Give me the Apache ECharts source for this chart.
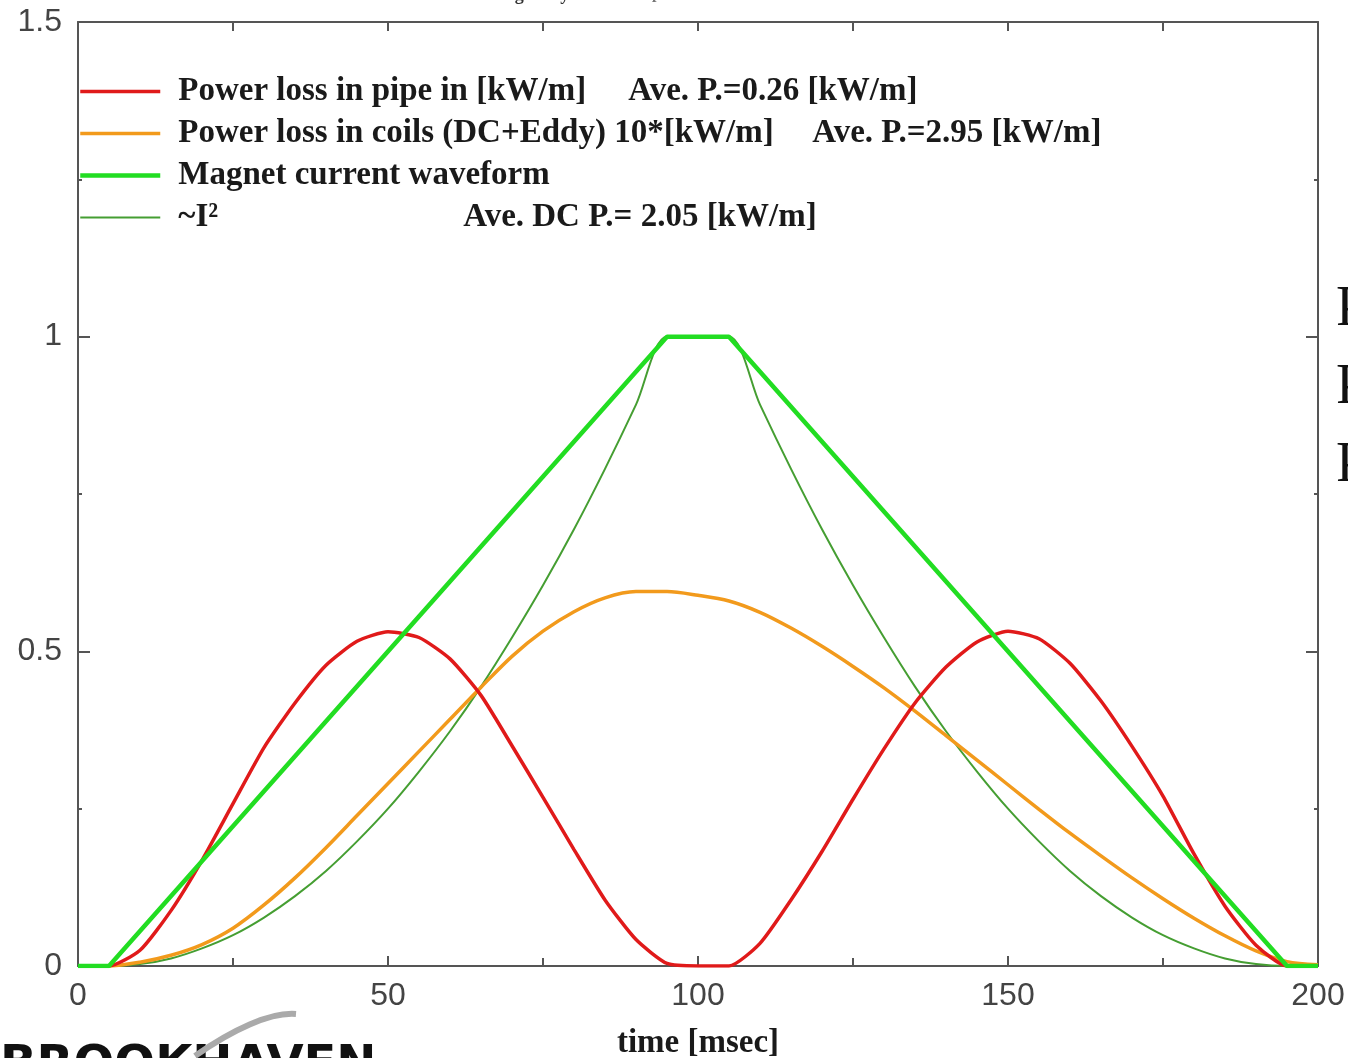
<!DOCTYPE html>
<html>
<head>
<meta charset="utf-8">
<script src="https://cdn.jsdelivr.net/npm/echarts@6/dist/echarts.min.js"></script>
<style>
  html, body { margin: 0; padding: 0; background: #fff; }
  #chart { width: 1348px; height: 1058px; }
</style>
</head>
<body>
<div id="chart"></div>
<script>
// time grid (msec) for sampled curves
const timeMs = [0, 5, 10, 15, 20, 25, 30, 35, 40, 45,
  50, 55, 60, 65, 70, 75, 80, 85, 90, 95,
  100, 105, 110, 115, 120, 125, 130, 135, 140, 145,
  150, 155, 160, 165, 170, 175, 180, 185, 190, 195, 200];

// power loss in pipe [kW/m]
const pipeLoss = [0, 0, 0.025, 0.088, 0.168, 0.258, 0.347, 0.418, 0.478, 0.516,
  0.531, 0.522, 0.488, 0.43, 0.35, 0.268, 0.185, 0.105, 0.042, 0.004,
  0, 0, 0.036, 0.105, 0.182, 0.265, 0.345, 0.418, 0.475, 0.515,
  0.532, 0.52, 0.481, 0.421, 0.349, 0.27, 0.178, 0.095, 0.033, 0, 0];

// power loss in coils, 10*[kW/m]
const coilLoss = [0, 0, 0.006, 0.017, 0.034, 0.06, 0.097, 0.14, 0.188, 0.239,
  0.29, 0.341, 0.392, 0.443, 0.492, 0.532, 0.563, 0.585, 0.595, 0.595,
  0.589, 0.58, 0.562, 0.537, 0.508, 0.476, 0.442, 0.405, 0.366, 0.327,
  0.288, 0.249, 0.211, 0.175, 0.14, 0.107, 0.076, 0.048, 0.024, 0.007, 0.002];

// ~I^2
const currentSq = [0, 0, 0.003, 0.012, 0.028, 0.049, 0.077, 0.111, 0.151, 0.198,
  0.25, 0.309, 0.373, 0.444, 0.522, 0.605, 0.694, 0.79, 0.892, 1,
  1, 1, 0.892, 0.79, 0.694, 0.605, 0.522, 0.444, 0.373, 0.309,
  0.25, 0.198, 0.151, 0.111, 0.077, 0.049, 0.028, 0.012, 0.003, 0, 0];

// magnet current waveform breakpoints
const currentT = [0, 5, 95, 105, 195, 200];
const currentV = [0, 0, 1, 1, 0, 0];

const seriesNames = [
  "Power loss in pipe in [kW/m]",
  "Power loss in coils (DC+Eddy) 10*[kW/m]",
  "Magnet current waveform",
  "~I²",
];
const aveTexts = [
  "Ave. P.=0.26 [kW/m]",
  "Ave. P.=2.95 [kW/m]",
  "",
  "Ave. DC P.= 2.05 [kW/m]",
];
const lineColors = ["#e01a1a", "#f29a1c", "#22dd22", "#459e32"];
const lineWidths = [3.5, 3.5, 4.5, 2];

const xTicks = [0, 50, 100, 150, 200];
const yTicks = [0, 0.5, 1, 1.5];

const pairs = (xs, ys) => xs.map((x, i) => [x, ys[i]]);

const chart = echarts.init(document.getElementById("chart"));

const serifBold = {
  fontFamily: "Liberation Serif",
  fontWeight: "bold",
  color: "#1a1a1a",
};

const frameLine = { show: true, onZero: false, lineStyle: { color: "#555", width: 2 } };
const tickStyle = { color: "#555", width: 2 };
const legendFont = { ...serifBold, fontSize: 33 };

const makeSeries = (i, xs, ys, extra) => ({
  name: seriesNames[i],
  type: "line",
  symbol: "none",
  color: lineColors[i],
  lineStyle: { color: lineColors[i], width: lineWidths[i] },
  data: pairs(xs, ys),
  ...extra,
});

chart.setOption({
  backgroundColor: "#fff",
  animation: false,
  grid: { left: 78, right: 30, top: 22, bottom: 92, outerBoundsMode: "none" },

  legend: {
    data: seriesNames.map((name, i) => ({
      name,
      lineStyle: { color: lineColors[i], width: lineWidths[i] },
    })),
    orient: "vertical",
    left: 78,
    top: 75,
    padding: 0,
    itemWidth: 80,
    itemHeight: 14,
    itemGap: 9,
    itemStyle: { opacity: 0 },
    formatter: (name) => {
      const i = seriesNames.indexOf(name);
      const ave = aveTexts[i] ? `{a|${aveTexts[i]}}` : "";
      return `{s| }{n${i}|${name}}${ave}`;
    },
    textStyle: {
      fontSize: 33,
      rich: {
        s: { width: 13, fontSize: 33 },
        n0: { ...legendFont, width: 450 },
        n1: { ...legendFont, width: 634 },
        n2: { ...legendFont },
        n3: { ...legendFont, width: 285 },
        a: { ...legendFont },
      },
    },
  },

  xAxis: [
    {
      type: "value",
      min: 0,
      max: 200,
      interval: 50,
      axisLine: frameLine,
      axisTick: { inside: true, length: 10, lineStyle: tickStyle },
      minorTick: { show: true, splitNumber: 2, length: 8, lineStyle: tickStyle },
      splitLine: { show: false },
      axisLabel: {
        margin: 14,
        fontFamily: "Liberation Sans",
        fontSize: 32,
        color: "#444",
        formatter: (v) => (xTicks.includes(v) ? String(v) : ""),
      },
      name: "time [msec]",
      nameLocation: "middle",
      nameGap: 61,
      nameTextStyle: { ...serifBold, fontSize: 33 },
    },
    {
      type: "value",
      position: "top",
      min: 0,
      max: 200,
      interval: 25,
      axisLine: frameLine,
      axisTick: { inside: true, length: 9, lineStyle: tickStyle },
      axisLabel: { show: false },
      splitLine: { show: false },
    },
  ],

  yAxis: [
    {
      type: "value",
      min: 0,
      max: 1.5,
      interval: 0.5,
      axisLine: frameLine,
      axisTick: { inside: true, length: 12, lineStyle: tickStyle },
      minorTick: { show: true, splitNumber: 2, length: 4, lineStyle: tickStyle },
      splitLine: { show: false },
      axisLabel: {
        margin: 16,
        fontFamily: "Liberation Sans",
        fontSize: 32,
        color: "#444",
        formatter: (v) => (yTicks.includes(v) ? String(v) : ""),
      },
    },
    {
      type: "value",
      position: "right",
      min: 0,
      max: 1.5,
      interval: 0.5,
      axisLine: frameLine,
      axisTick: { inside: true, length: 12, lineStyle: tickStyle },
      minorTick: { show: true, splitNumber: 2, length: 4, lineStyle: tickStyle },
      axisLabel: { show: false },
      splitLine: { show: false },
    },
  ],

  series: [
    makeSeries(0, timeMs, pipeLoss, { smooth: 0.2, z: 4 }),
    makeSeries(1, timeMs, coilLoss, { smooth: 0.3, z: 3 }),
    makeSeries(2, currentT, currentV, { z: 5 }),
    makeSeries(3, timeMs, currentSq, { smooth: 0.3, z: 2 }),
  ],

  graphic: [
    // clipped text fragments around the slide edges
    {
      type: "text",
      left: 478,
      top: -14,
      style: { text: "• Magnet cycle", font: "bold 18px 'Liberation Serif'", fill: "#333" },
    },
    {
      type: "text",
      left: 652,
      top: -14,
      style: { text: "photon", font: "bold 16px 'Liberation Serif'", fill: "#777" },
    },
    {
      type: "text",
      left: 1336,
      top: 282,
      style: { text: "P", font: "56px 'Liberation Serif'", fill: "#111" },
    },
    {
      type: "text",
      left: 1336,
      top: 360,
      style: { text: "P", font: "56px 'Liberation Serif'", fill: "#111" },
    },
    {
      type: "text",
      left: 1336,
      top: 438,
      style: { text: "P", font: "56px 'Liberation Serif'", fill: "#111" },
    },
    {
      type: "text",
      left: 0,
      top: 1043,
      style: { text: "BROOKHAVEN", font: "900 48px 'DejaVu Sans'", fill: "#111" },
    },
    {
      type: "bezierCurve",
      shape: { x1: 195, y1: 1056, x2: 296, y2: 1014, cpx1: 232, cpy1: 1030, cpx2: 270, cpy2: 1012 },
      style: { stroke: "#aaa", lineWidth: 6, fill: null },
    },
  ],
});

window.addEventListener("resize", () => chart.resize());
</script>
</body>
</html>
